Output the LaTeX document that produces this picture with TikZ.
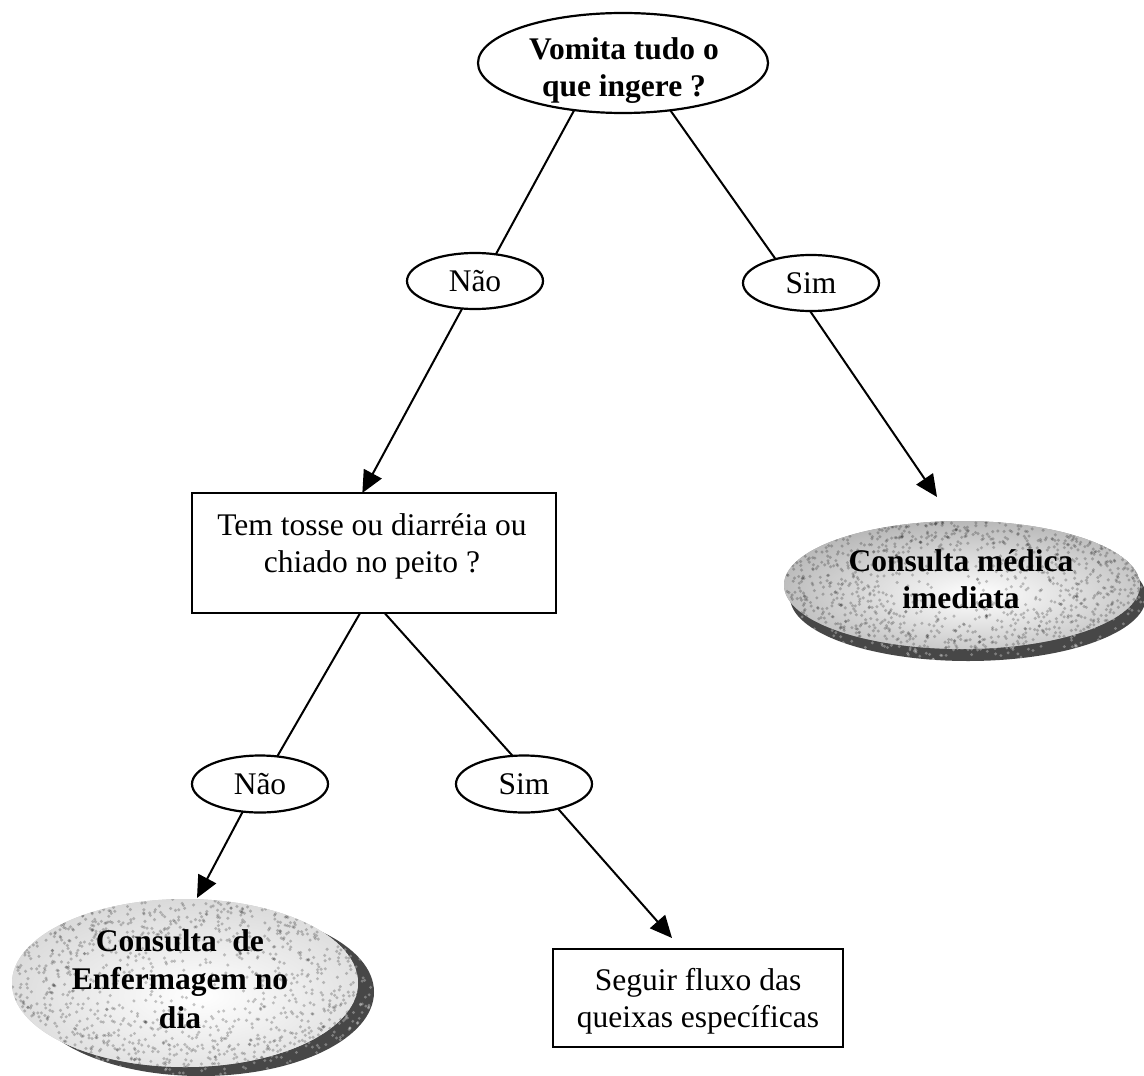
\documentclass[tikz,border=0pt]{standalone}
\usepackage{fontspec}
\setmainfont{Liberation Serif}
\usetikzlibrary{arrows.meta,shapes.geometric}

% Grainy disc: upper face centred at (#1,#2) with radii #3,#4,
% dark rim from a copy shifted by (#5,#6); #7 = rim grey, #8 = seed
\newcommand\graindisc[8]{%
  \fill[black!72] (#1+#5,#2+#6) ellipse [x radius=#3, y radius=#4];
  \pgfmathsetseed{#8}
  \begin{scope}
    \clip (#1+#5,#2+#6) ellipse [x radius=#3, y radius=#4];
    \foreach \k in {1,...,450}{
      \pgfmathsetmacro\ang{360*rnd}
      \pgfmathsetmacro\rr{rnd^0.3}
      \pgfmathsetmacro\gx{#1+#5+#3*\rr*cos(\ang)}
      \pgfmathsetmacro\gy{#2+#6+#4*\rr*sin(\ang)}
      \fill[white, opacity=0.3] (\gx,\gy) circle[radius=0.8pt];
    }
  \end{scope}
  \begin{scope}
    \clip (#1,#2) ellipse [x radius=#3, y radius=#4];
    \fill[black!#7] (#1,#2) ellipse [x radius=#3, y radius=#4];
    \shade[inner color=white, outer color=black!#7]
      (#1+0.08*#3,#2+0.15*#4) ellipse [x radius=1.8*#3, y radius=1.75*#4];
    \foreach \k in {1,...,1000}{
      \pgfmathsetmacro\ang{360*rnd}
      \pgfmathsetmacro\rr{rnd^0.35}
      \pgfmathsetmacro\gx{#1+#3*\rr*cos(\ang)}
      \pgfmathsetmacro\gy{#2+#4*\rr*sin(\ang)}
      \fill[black, opacity=0.22] (\gx,\gy) circle[radius=0.85pt];
    }
  \end{scope}
}

\begin{document}
\begin{tikzpicture}[x=0.5pt,y=-0.5pt,
  txt/.style={font=\fontsize{15.75}{18.5}\selectfont, align=center, inner sep=0pt},
  btxt/.style={font=\fontsize{15.75}{18.5}\selectfont\bfseries, align=center, inner sep=0pt},
  oval/.style={draw, ellipse, line width=1.1pt, inner sep=0pt, outer sep=0pt, fill=white},
  box/.style={draw, rectangle, line width=1pt, inner sep=0pt, outer sep=0pt, fill=white},
  link/.style={line width=1pt},
  arrow/.style={link, -{Triangle[length=11pt,width=10pt]}},
]
\useasboundingbox (0,0) rectangle (1144,1075);
\fill[white] (0,0) rectangle (1144,1075);

% grainy end discs
\graindisc{962}{585}{178}{64}{6}{12}{42}{11}
\graindisc{185}{983}{173}{84}{16}{9}{22}{23}
\node[btxt] (Mt) at (961,579) {Consulta médica\\imediata};
\node[btxt, font=\fontsize{15.75}{19.2}\selectfont\bfseries] (Et) at (180,979) {Consulta\ \ de\\Enfermagem no\\dia};

% question and answer nodes
\node[oval, minimum width=145pt, minimum height=50pt] (T) at (623,63) {};
\node[btxt] (Tt) at (624,71) {Vomita tudo o\\que ingere ?};

\node[oval, txt, minimum width=68pt, minimum height=28pt] (N1) at (475,281) {Não};
\node[oval, txt, minimum width=68pt, minimum height=28pt] (S1) at (811,283) {Sim};

\node[box, minimum width=182pt, minimum height=60pt] (R) at (374,553) {};
\node[txt] (Rt) at (372,546) {Tem tosse ou diarréia ou\\chiado no peito ?};

\node[oval, txt, minimum width=68pt, minimum height=28.5pt] (N2) at (260,784) {Não};
\node[oval, txt, minimum width=68pt, minimum height=28.5pt] (S2) at (524,784) {Sim};

\node[box, minimum width=145pt, minimum height=49pt] (F) at (698,998) {};
\node[txt] (Ft) at (698,1001) {Seguir fluxo das\\queixas específicas};

% free ends of arrows
\coordinate (mtip) at (937,497);
\coordinate (etip) at (197,898);
\coordinate (ftip) at (672,938);

% connectors
\draw[link] (T.224) -- (N1.52);
\draw[link] (T.315) -- (S1.146);
\draw[arrow] (N1.245) -- (R.101);
\draw[arrow] (S1.268) -- (mtip);
\draw[link] (R.257) -- (N2.58);
\draw[link] (R.280) -- (S2.112);
\draw[arrow] (N2.238) -- (etip);
\draw[arrow] (S2.324) -- (ftip);
\end{tikzpicture}
\end{document}
